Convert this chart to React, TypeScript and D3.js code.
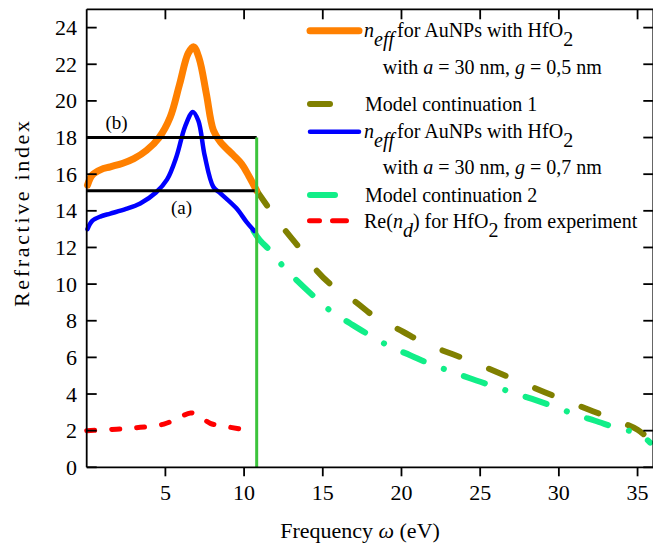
import React from 'react';
import * as d3 from 'd3';

const W = 653;
const H = 546;

// n_eff, g = 0.5 nm (orange)
const orangeX = [0.05, 0.35, 0.9, 1.5, 2.3, 3.0, 3.8, 4.6, 5.3, 5.9, 6.45, 6.8, 7.15, 7.6, 8.05, 8.5, 9.3, 9.85, 10.3, 10.8];
const orangeY = [15.4, 15.95, 16.25, 16.4, 16.6, 16.85, 17.3, 18.0, 19.1, 20.9, 22.6, 22.95, 22.3, 20.4, 18.4, 17.75, 17.05, 16.55, 15.9, 15.1];

// n_eff, g = 0.7 nm (blue)
const blueX = [0.05, 0.35, 0.9, 1.5, 2.5, 3.4, 4.4, 5.1, 5.7, 6.25, 6.75, 7.1, 7.5, 8.05, 8.5, 9.5, 10.15, 10.65];
const blueY = [13.0, 13.45, 13.7, 13.85, 14.1, 14.4, 15.0, 15.7, 16.95, 18.6, 19.4, 18.9, 17.0, 15.3, 14.95, 14.15, 13.4, 12.9];

// Re(n_d) HfO2 experiment (red)
const redX = [0, 1.9, 3.4, 4.9, 5.9, 6.6, 7.2, 7.85, 8.9, 10.7];
const redY = [2.0, 2.08, 2.18, 2.36, 2.72, 2.97, 2.78, 2.4, 2.22, 1.94];

// Model continuation 1 (olive)
const oliveX = [10.8, 11.65, 12.5, 13.45, 14.5, 15.55, 17.05, 18.3, 20.1, 21.4, 23.0, 24.4, 26.05, 27.45, 29.1, 30.5, 32.2, 33.6, 35.0, 35.8];
const oliveY = [15.1, 14.05, 13.05, 12.05, 10.85, 9.95, 9.05, 8.22, 7.4, 6.8, 6.25, 5.8, 5.2, 4.7, 4.1, 3.62, 3.05, 2.58, 2.05, 1.5];

// Model continuation 2 (spring green)
const greenX = [10.6, 11.0, 11.75, 12.5, 13.35, 14.6, 15.55, 16.75, 17.8, 19.3, 20.55, 22.0, 23.2, 24.35, 26.05, 27.2, 28.3, 30.0, 31.15, 32.3, 33.9, 35.05, 35.8];
const greenY = [12.9, 12.4, 11.75, 10.95, 10.2, 9.2, 8.5, 7.85, 7.3, 6.58, 6.12, 5.58, 5.22, 4.86, 4.37, 4.04, 3.73, 3.22, 2.85, 2.54, 2.09, 1.86, 1.35];

const xTicks = [5, 10, 15, 20, 25, 30, 35];
const yTicks = [0, 2, 4, 6, 8, 10, 12, 14, 16, 18, 20, 22, 24];

const cutX = 10.8;
const levelB = 18.0;
const levelA = 15.1;

const x = d3.scaleLinear().domain([0, 36]).range([86.7, 653.3]);
const y = d3.scaleLinear().domain([0, 25]).range([467.3, 9.3]);

const mk = (xs: number[], ys: number[]) =>
  d3
    .line<number>()
    .x((_, i) => x(xs[i]))
    .y((d) => y(d))
    .curve(d3.curveCatmullRom.alpha(0.5))(ys) as string;

const FS = { fontFamily: '"Liberation Serif"' };

export default function App() {
  const x0 = x(0), x1 = x(36), y0 = y(0), y1 = y(25);
  return (
    <svg
      width={W}
      height={H}
      viewBox={`0 0 ${W} ${H}`}
      style={{ position: 'absolute', left: 0, top: 0, background: '#fff' }}
    >
      <rect x={0} y={0} width={W} height={H} fill="#fff" />

      {/* curves */}
      <path d={mk(redX, redY)} fill="none" stroke="#ff0000" strokeWidth={5} strokeDasharray="8 17" strokeLinecap="round" />
      <path d={mk(oliveX, oliveY)} fill="none" stroke="#808000" strokeWidth={6} strokeDasharray="18 32" strokeLinecap="round" />
      <path d={mk(greenX, greenY)} fill="none" stroke="#11ee88" strokeWidth={6} strokeDasharray="22 21.5 0.1 21.5" strokeLinecap="round" />
      <path d={mk(orangeX, orangeY)} fill="none" stroke="#ff8000" strokeWidth={7} strokeLinecap="round" strokeLinejoin="round" />
      <path d={mk(blueX, blueY)} fill="none" stroke="#0000ff" strokeWidth={4.5} strokeLinecap="round" strokeLinejoin="round" />

      {/* reference lines */}
      <line x1={x(0)} x2={x(cutX)} y1={y(levelB)} y2={y(levelB)} stroke="#000" strokeWidth={3} />
      <line x1={x(0)} x2={x(cutX) - 2} y1={y(levelA)} y2={y(levelA)} stroke="#000" strokeWidth={3} />
      <line x1={x(cutX)} x2={x(cutX)} y1={y(levelB)} y2={y(0)} stroke="#3cc43c" strokeWidth={3} />

      <text x={116.5} y={129} fontSize={19} textAnchor="middle" style={FS}>(b)</text>
      <text x={181.5} y={214} fontSize={19} textAnchor="middle" style={FS}>(a)</text>

      {/* frame */}
      <g stroke="#000" strokeWidth={1.8} fill="none">
        <line x1={x0} x2={x1} y1={y0} y2={y0} />
        <line x1={x0} x2={x1} y1={y1} y2={y1} />
        <line x1={x0} x2={x0} y1={y0} y2={y1} />
        <line x1={x1} x2={x1} y1={y0} y2={y1} />
        {xTicks.map((t) => (
          <g key={'xt' + t}>
            <line x1={x(t)} x2={x(t)} y1={y0} y2={y0 + 9} />
            <line x1={x(t)} x2={x(t)} y1={y1} y2={y1 + 10} />
          </g>
        ))}
        {yTicks.map((t) => (
          <g key={'yt' + t}>
            <line x1={x0} x2={x0 + 10} y1={y(t)} y2={y(t)} />
            <line x1={x1} x2={x1 - 10} y1={y(t)} y2={y(t)} />
          </g>
        ))}
      </g>

      {xTicks.map((t) => (
        <text key={'xl' + t} x={x(t)} y={500} fontSize={22} textAnchor="middle" style={FS}>{t}</text>
      ))}
      {yTicks.map((t) => (
        <text key={'yl' + t} x={77} y={y(t) + 7.5} fontSize={22} textAnchor="end" style={FS}>{t}</text>
      ))}

      <text x={360} y={538} fontSize={22} textAnchor="middle" style={FS}>
        Frequency <tspan fontStyle="italic">ω</tspan> (eV)
      </text>
      <text
        transform={`translate(29,214) rotate(-90)`}
        fontSize={22}
        textAnchor="middle"
        textLength={186}
        lengthAdjust="spacing"
        style={FS}
      >
        Refractive index
      </text>

      {/* legend */}
      <g fontSize={20}>
        <line x1={310} x2={359} y1={30.7} y2={30.7} stroke="#ff8000" strokeWidth={7} strokeLinecap="round" />
        <text x={364} y={37} style={FS}>
          <tspan fontStyle="italic">n</tspan>
          <tspan fontStyle="italic" dy={9}>eff</tspan>
          <tspan dy={-9} dx={3}>for AuNPs with HfO</tspan>
          <tspan dy={9}>2</tspan>
        </text>
        <text x={382.7} y={74} style={FS}>
          with <tspan fontStyle="italic">a</tspan> = 30 nm, <tspan fontStyle="italic">g</tspan> = 0,5 nm
        </text>

        <line x1={310} x2={330} y1={104} y2={104} stroke="#808000" strokeWidth={6} strokeLinecap="round" />
        <text x={365} y={110.7} style={FS}>Model continuation 1</text>

        <line x1={310} x2={359} y1={131.7} y2={131.7} stroke="#0000ff" strokeWidth={4.5} strokeLinecap="round" />
        <text x={364} y={137.5} style={FS}>
          <tspan fontStyle="italic">n</tspan>
          <tspan fontStyle="italic" dy={9}>eff</tspan>
          <tspan dy={-9} dx={3}>for AuNPs with HfO</tspan>
          <tspan dy={9}>2</tspan>
        </text>
        <text x={382.7} y={174} style={FS}>
          with <tspan fontStyle="italic">a</tspan> = 30 nm, <tspan fontStyle="italic">g</tspan> = 0,7 nm
        </text>

        <line x1={310} x2={356} y1={195} y2={195} stroke="#11ee88" strokeWidth={6} strokeDasharray="25 21 0.1 30" strokeLinecap="round" />
        <text x={365} y={201.7} style={FS}>Model continuation 2</text>

        <line x1={309.5} x2={358.5} y1={220.7} y2={220.7} stroke="#ff0000" strokeWidth={5} strokeDasharray="10 13 14 12 0.1 20" strokeLinecap="round" />
        <text x={364} y={228} style={FS}>
          Re(<tspan fontStyle="italic">n</tspan>
          <tspan fontStyle="italic" dy={9}>d</tspan>
          <tspan dy={-9}>) for HfO</tspan>
          <tspan dy={9}>2</tspan>
          <tspan dy={-9}> from experiment</tspan>
        </text>
      </g>
    </svg>
  );
}
